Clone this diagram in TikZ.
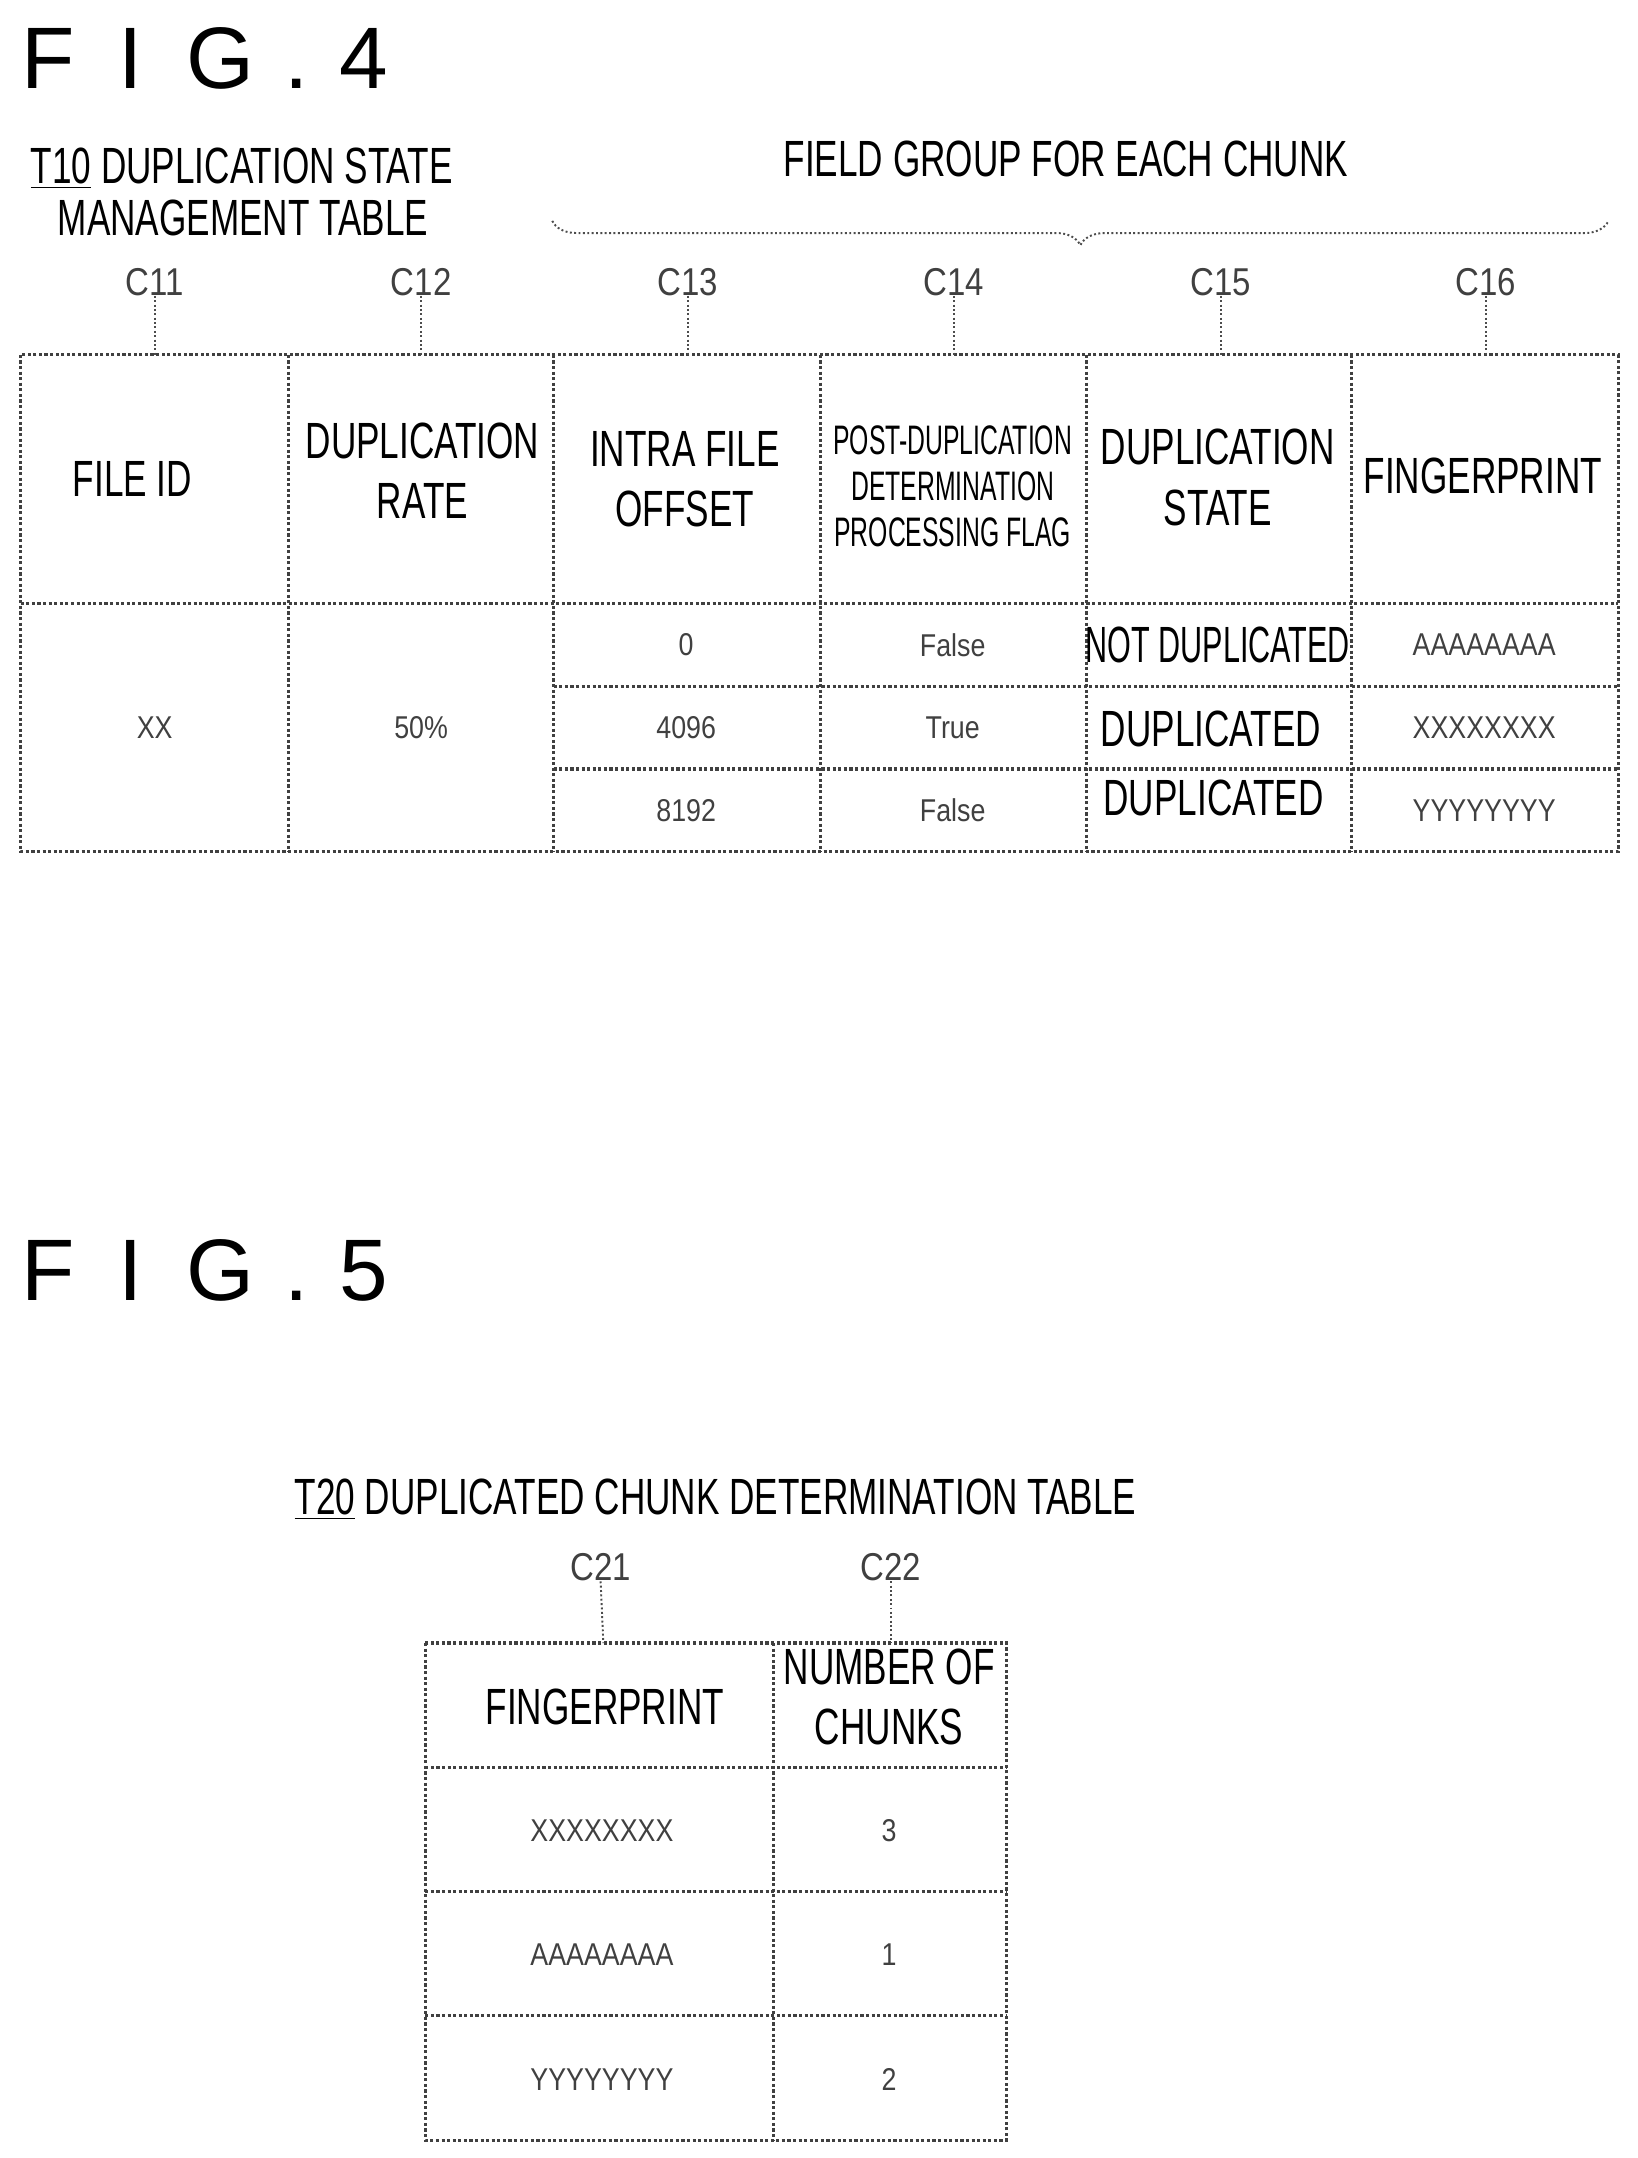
\documentclass[tikz,border=0pt]{standalone}
\usepackage{fontspec}
\setmainfont{Liberation Sans}
\newfontfamily\cond[FakeStretch=0.69]{Liberation Sans}
\newfontfamily\tight[FakeStretch=0.6]{Liberation Sans}
\newfontfamily\semi[FakeStretch=0.85]{Liberation Sans}
\usetikzlibrary{decorations.pathreplacing}
\begin{document}
\begin{tikzpicture}[x=0.02cm,y=-0.02cm,
  grid/.style={draw=black!75,line width=1.3pt,densely dotted},
  lead/.style={draw=black!70,line width=0.8pt,densely dotted},
  hd/.style={font=\cond\fontsize{21}{25}\selectfont,align=center,inner sep=0pt},
  hs/.style={font=\tight\fontsize{17}{19}\selectfont,align=center,inner sep=0pt},
  dat/.style={font=\semi\fontsize{13}{16}\selectfont,text=black!75,inner sep=0pt},
  lab/.style={font=\semi\fontsize{16}{19}\selectfont,text=black!75,inner sep=0pt},
  fig/.style={font=\fontsize{36}{40}\selectfont,anchor=west,inner sep=0pt}]
\useasboundingbox (0,0) rectangle (1186,1563);
% FIG 4
\node[fig] (f4) at (15,42) {F\hspace{0.5em}I\hspace{0.5em}G\hspace{0.35em}.\hspace{0.35em}4};
\node[hd,anchor=west] (t10a) at (22,122) {\underline{T10} DUPLICATION STATE};
\node[hd] (t10b) at (176,158) {MANAGEMENT TABLE};
\node[hd] (fg) at (772,115) {FIELD GROUP FOR EACH CHUNK};
\draw[lead,decorate,decoration={brace,amplitude=10pt,mirror}] (400,160) -- (1165,160);
% table 1
\draw[grid] (15,257) rectangle (1172,617);
\foreach \x in {209,401,594,787,979} \draw[grid] (\x,257) -- (\x,617);
\draw[grid] (15,437) -- (1172,437);
\draw[grid] (401,497) -- (1172,497);
\draw[grid] (401,557) -- (1172,557);
\foreach \n/\x in {11/112,12/305,13/498,14/691,15/884,16/1076}{
  \node[lab] (c\n) at (\x,204) {C\n};
  \draw[lead] (c\n.south) -- (\x,257);
}
\node[hd] (h1) at (96,347) {FILE ID};
\node[hd] (h2) at (306,341) {DUPLICATION\\RATE};
\node[hd] (h3) at (496,347) {INTRA FILE\\OFFSET};
\node[hs] (h4) at (690,352) {POST-DUPLICATION\\DETERMINATION\\PROCESSING FLAG};
\node[hd] (h5) at (882,346) {DUPLICATION\\STATE};
\node[hd] (h6) at (1074,345) {FINGERPRINT};
\node[dat] (xx) at (112,527) {XX};
\node[dat] (r50) at (305,527) {50\%};
\node[dat] (o1) at (497,467) {0};
\node[dat] (o2) at (497,527) {4096};
\node[dat] (o3) at (497,587) {8192};
\node[dat] (p1) at (690,467) {False};
\node[dat] (p2) at (690,527) {True};
\node[dat] (p3) at (690,587) {False};
\node[hd,font=\tight\fontsize{21}{25}\selectfont] (s1) at (882,467) {NOT DUPLICATED};
\node[hd] (s2) at (877,528) {DUPLICATED};
\node[hd] (s3) at (879,578) {DUPLICATED};
\node[dat] (g1) at (1075,467) {AAAAAAAA};
\node[dat] (g2) at (1075,527) {XXXXXXXX};
\node[dat] (g3) at (1075,587) {YYYYYYYY};
% FIG 5
\node[fig] (f5) at (15,920) {F\hspace{0.5em}I\hspace{0.5em}G\hspace{0.35em}.\hspace{0.35em}5};
\node[hd,anchor=west] (t20) at (213,1086) {\underline{T20} DUPLICATED CHUNK DETERMINATION TABLE};
\draw[grid] (308,1190) rectangle (729,1550);
\draw[grid] (560,1190) -- (560,1550);
\foreach \y in {1280,1370,1460} \draw[grid] (308,\y) -- (729,\y);
\node[lab] (c21) at (435,1135) {C21};
\node[lab] (c22) at (645,1135) {C22};
\draw[lead] (c21.south) -- (437,1190);
\draw[lead] (c22.south) -- (645,1190);
\node[hd] (k1) at (438,1236) {FINGERPRINT};
\node[hd] (k2) at (644,1229) {NUMBER OF\\CHUNKS};
\node[dat] (d1) at (436,1326) {XXXXXXXX};
\node[dat] (d2) at (436,1416) {AAAAAAAA};
\node[dat] (d3) at (436,1506) {YYYYYYYY};
\node[dat] (n1) at (644,1326) {3};
\node[dat] (n2) at (644,1416) {1};
\node[dat] (n3) at (644,1506) {2};
\end{tikzpicture}
\end{document}
